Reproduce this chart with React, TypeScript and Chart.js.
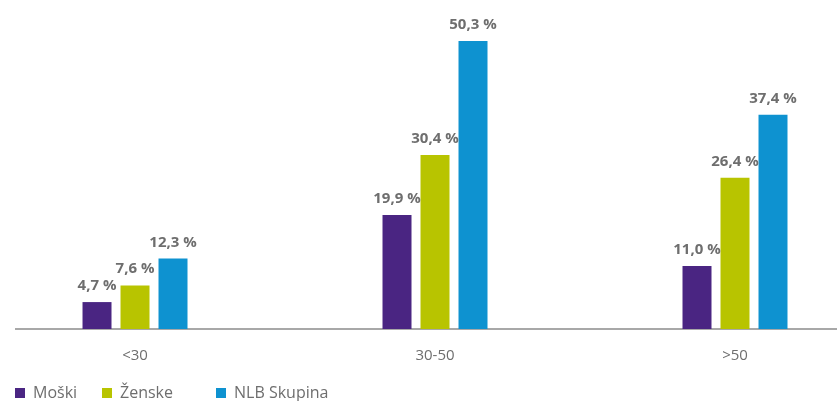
import React, { useEffect, useRef } from "react";
import { Chart, registerables } from "chart.js";

Chart.register(...registerables);

// Age groups and the share of employees in each group
const categories = ["<30", "30-50", ">50"];
const seriesNames = ["Moški", "Ženske", "NLB Skupina"];
const moski = [4.7, 19.9, 11.0];
const zenske = [7.6, 30.4, 26.4];
const nlbSkupina = [12.3, 50.3, 37.4];
const seriesColors = ["#4a2582", "#b8c400", "#0e92d0"];

const FONT = "'Open Sans', 'DejaVu Sans', sans-serif";
const TEXT_GREY = "#6e6e6e";

const fmt = (v: number) => v.toFixed(1).replace(".", ",") + " %";

// Value labels above each bar
const valueLabels = {
  id: "valueLabels",
  afterDatasetsDraw(chart: any) {
    const ctx = chart.ctx;
    ctx.save();
    ctx.font = `bold 15px ${FONT}`;
    ctx.fillStyle = TEXT_GREY;
    ctx.textAlign = "center";
    ctx.textBaseline = "alphabetic";
    chart.data.datasets.forEach((ds: any, di: number) => {
      const meta = chart.getDatasetMeta(di);
      meta.data.forEach((el: any, i: number) => {
        const v = ds.data[i].y;
        ctx.fillText(fmt(v), el.x, el.y - 12);
      });
    });
    ctx.restore();
  },
};

// Legend row along the bottom
const legendRow = {
  id: "legendRow",
  afterDraw(chart: any) {
    const ctx = chart.ctx;
    const starts = [15, 102, 216];
    ctx.save();
    ctx.font = `16px ${FONT}`;
    ctx.textBaseline = "alphabetic";
    ctx.textAlign = "left";
    seriesNames.forEach((name, i) => {
      const x = starts[i];
      ctx.fillStyle = seriesColors[i];
      ctx.fillRect(x, 388, 10, 10);
      ctx.fillStyle = TEXT_GREY;
      ctx.fillText(name, x + 18, 398);
    });
    ctx.restore();
  },
};

export default function App() {
  const canvasRef = useRef<HTMLCanvasElement | null>(null);

  useEffect(() => {
    if (!canvasRef.current) return;
    const series = [moski, zenske, nlbSkupina];
    const chart = new Chart(canvasRef.current, {
      type: "bar",
      data: {
        datasets: series.map((vals, si) => ({
          label: seriesNames[si],
          data: vals.map((y, i) => ({ x: i, y })),
          backgroundColor: seriesColors[si],
          borderWidth: 0,
          categoryPercentage: 0.38,
          barPercentage: 0.763,
        })),
      },
      options: {
        animation: false,
        responsive: true,
        maintainAspectRatio: false,
        layout: { padding: { left: 16, right: 0, top: 14, bottom: 18 } },
        plugins: {
          legend: { display: false },
          tooltip: { enabled: false },
        },
        scales: {
          x: {
            type: "linear",
            offset: false,
            min: -0.3967,
            max: 2.34,
            afterBuildTicks: (scale: any) => {
              scale.ticks = categories.map((_, i) => ({ value: i }));
            },
            grid: { display: false, drawTicks: false, tickLength: 0 },
            border: { display: true, color: "#a8a8a8", width: 2 },
            ticks: {
              autoSkip: false,
              padding: 18,
              color: TEXT_GREY,
              font: { family: FONT, size: 15 },
              callback: (v: any) => categories[v] ?? "",
            },
          },
          y: {
            display: false,
            min: 0,
            max: 55,
          },
        },
      },
      plugins: [valueLabels, legendRow],
    } as any);
    return () => chart.destroy();
  }, []);

  return (
    <div style={{ position: "absolute", left: 0, top: 0, width: 837, height: 401, background: "#fff" }}>
      <canvas ref={canvasRef} />
    </div>
  );
}
